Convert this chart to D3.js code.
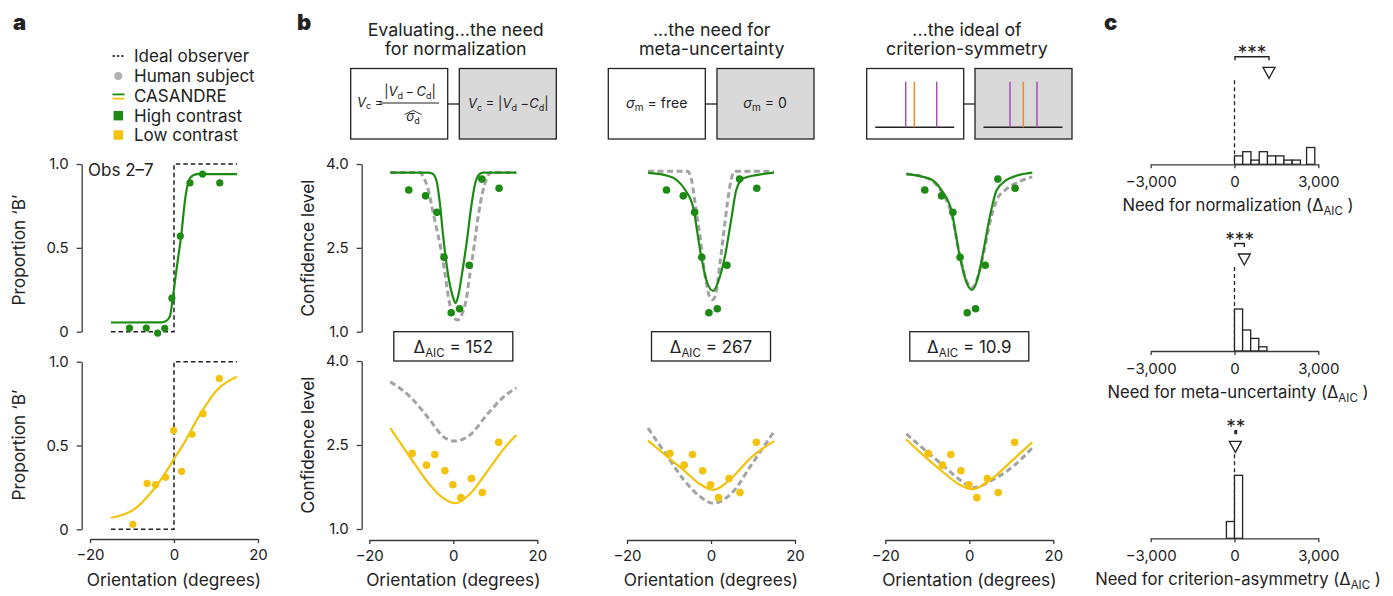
<!DOCTYPE html>
<html><head><meta charset="utf-8">
<script src="https://cdn.jsdelivr.net/npm/d3@7"></script>
<style>
body{margin:0;background:#fff}
svg{font-family:Inter,"Noto Sans",sans-serif;}
</style>
</head><body>
<svg id="chart" width="1393" height="596"></svg>
<script>
// ---------------- DATA ----------------
const oriHigh = [-10.6,-6.6,-3.9,-2.2,-0.5,1.5,3.8,6.8,10.9];
const oriLow  = [-9.8,-6.4,-4.4,-2.0,-0.1,1.8,4.3,6.9,10.8];
const propHigh = [0.022,0.022,-0.008,0.02,0.2,0.57,0.887,0.94,0.887];
const propLow  = [0.03,0.274,0.266,0.31,0.59,0.346,0.567,0.69,0.90];
const confHigh = [3.535,3.43,3.135,2.33,1.34,1.41,2.19,3.73,3.565];
const confLow  = [2.35,2.14,2.33,2.04,1.79,1.56,1.90,1.65,2.55];

const idealObserver = [[-15,0],[0,0],[0,1],[15,1]];
const psychFitHigh = [[-15,0.055],[-3,0.056],[-2,0.062],[-1,0.09],[-0.3,0.2],[0.7,0.39],[1.7,0.57],[2.7,0.8],[3.9,0.92],[5.5,0.94],[15,0.94]];
const psychFitLow  = [[-15,0.069],[-9.6,0.117],[-5.6,0.215],[-1.7,0.35],[0,0.42],[2.3,0.51],[6.3,0.69],[10.2,0.83],[15,0.91]];

// panel b model curves (full model = coloured, reduced model = grey dashed)
const normFullHigh = [[-15,3.845],[-6,3.845],[-5,3.83],[-4,3.7],[-3.2,3.3],[-2.4,2.7],[-1.2,2.0],[0,1.6],[0.55,1.51],[1.2,1.65],[2.2,2.1],[3.2,2.6],[4.2,3.2],[5.2,3.65],[6,3.8],[7,3.845],[15,3.845]];
const normRedHigh  = [[-15,3.85],[-8,3.85],[-7,3.75],[-6,3.55],[-5,3.2],[-4,2.85],[-3,2.5],[-2,2.05],[-1,1.55],[0,1.27],[1,1.21],[2,1.3],[3,1.55],[4,2.05],[5,2.55],[6,3.1],[7,3.5],[8,3.75],[9,3.85],[15,3.85]];
const normFullLow  = [[-15,2.8],[-10,2.25],[-5.6,1.79],[-2.4,1.55],[0.6,1.46],[4,1.63],[8,2.02],[12,2.43],[15,2.68]];
const normRedLow   = [[-15,3.63],[-10,3.34],[-5.6,2.95],[-2.4,2.65],[0.2,2.57],[4,2.68],[8,3.04],[12,3.36],[15,3.52]];

const metaFullHigh = [[-15,3.84],[-10.9,3.8],[-8.1,3.71],[-6.1,3.53],[-4.2,3.21],[-2.6,2.46],[-1.1,1.92],[0.5,1.73],[2.1,1.98],[3.3,2.34],[4.8,3.0],[6.0,3.53],[7.6,3.74],[10.7,3.8],[15,3.845]];
const metaRedHigh  = [[-15,3.87],[-5.6,3.87],[-4.6,3.7],[-3.6,3.2],[-2.6,2.7],[-1.4,2.0],[-0.3,1.62],[0.4,1.57],[1.2,1.7],[2.1,2.2],[3.0,2.75],[3.9,3.3],[4.8,3.72],[5.6,3.87],[15,3.87]];
const metaFullLow  = [[-15,2.58],[-10.4,2.29],[-6.5,2.05],[-2.6,1.8],[0.5,1.7],[5.3,1.94],[9.3,2.26],[15,2.57]];
const metaRedLow   = [[-15,2.8],[-10.4,2.3],[-6.5,1.88],[-2.6,1.58],[0.5,1.46],[5.3,1.67],[9.3,2.11],[15,2.74]];

const critFullHigh = [[-15,3.82],[-11,3.77],[-8.5,3.7],[-6.6,3.53],[-4.2,3.15],[-2.4,2.4],[-0.6,1.87],[0.7,1.75],[2.1,1.98],[3.4,2.46],[4.9,3.06],[6.5,3.53],[8.8,3.71],[11.2,3.79],[15,3.845]];
const critRedHigh  = [[-15,3.82],[-11,3.77],[-8.5,3.68],[-6.6,3.5],[-4.2,3.1],[-2.4,2.42],[-0.6,1.9],[0.8,1.79],[2.1,2.0],[3.4,2.4],[4.9,2.95],[6.5,3.35],[8.8,3.55],[11.2,3.66],[15,3.77]];
const critFullLow  = [[-15,2.6],[-10.1,2.26],[-6,2.0],[-2.3,1.79],[0.8,1.71],[5.6,1.91],[10.3,2.23],[15,2.55]];
const critRedLow   = [[-15,2.7],[-10.1,2.38],[-6,2.12],[-2.3,1.88],[1.1,1.74],[5.6,1.88],[10.3,2.11],[15,2.45]];

const deltaAIC = ["152","267","10.9"];
const headers = [["Evaluating...the need","for normalization"],["...the need for","meta-uncertainty"],["...the ideal of","criterion-symmetry"]];

// panel c histograms
const histLabels = ["Need for normalization (","Need for meta-uncertainty (","Need for criterion-asymmetry ("];
const normBinStarts = [0,295,590,885,1180,1475,1770,2065,2580];
const normCounts    = [2,3,1,3,2,2,1,1,4];
const metaBinStarts = [0,290,580,870];
const metaCounts    = [10,5,3,1];
const critBinStarts = [-290,0];
const critCounts    = [4,15];
const histMeans = [1236,350,30];
const histStars = ["***","***","**"];
const xTicksC = [-3000,0,3000];
const xTicksOri = [-20,0,20];

// ---------------- STYLE ----------------
const GREEN = "#1d8a13", YELLOW = "#f3c20c", GREY = "#a3a3a3", INK = "#222", AX = "#3a3a3a";
const PURPLE = "#a24fae", ORANGE = "#f08a24";
const TICK = 15, LAB = 17.3, LEG = 17, HEAD = 17.8, CLAB = 16.6;

const svg = d3.select("#chart");

function styleAxis(g){
  g.selectAll("path.domain").attr("stroke",AX).attr("stroke-width",1.3);
  g.selectAll(".tick line").attr("stroke",AX).attr("stroke-width",1.3);
  g.selectAll(".tick text").attr("fill",INK).attr("font-size",TICK).attr("font-family","Inter,'Noto Sans',sans-serif");
}
function yAxis(x, scale, ticks, fmt){
  const g = svg.append("g").attr("transform",`translate(${x},0)`)
    .call(d3.axisLeft(scale).tickValues(ticks).tickFormat(fmt).tickSize(5).tickSizeOuter(0).tickPadding(8));
  styleAxis(g);
}
function xAxis(y, scale, ticks, fmt, pad){
  const g = svg.append("g").attr("transform",`translate(0,${y})`)
    .call(d3.axisBottom(scale).tickValues(ticks).tickFormat(fmt).tickSize(4).tickSizeOuter(0).tickPadding(pad));
  styleAxis(g);
}
function yTitle(x, yc, txt){
  svg.append("text").attr("transform",`translate(${x},${yc}) rotate(-90)`)
    .attr("text-anchor","middle").attr("font-size",LAB).attr("fill",INK).text(txt);
}
function label(x,y,txt,opts={}){
  return svg.append("text").attr("x",x).attr("y",y).attr("fill",INK)
    .attr("font-size",opts.size||LAB).attr("text-anchor",opts.anchor||"start")
    .attr("font-weight",opts.weight||"normal").text(txt);
}
function curve(xs, ys, pts, color, dashed){
  const line = d3.line().x(d=>xs(d[0])).y(d=>ys(d[1])).curve(d3.curveMonotoneX);
  svg.append("path").attr("d",line(pts)).attr("fill","none").attr("stroke",color)
    .attr("stroke-width",dashed?3:2.2).attr("stroke-dasharray",dashed?"6,3.5":null);
}
function dots(xs, ys, xv, yv, color, r){
  svg.append("g").selectAll("circle").data(xv).join("circle")
    .attr("cx",(d)=>xs(d)).attr("cy",(d,i)=>ys(yv[i])).attr("r",r).attr("fill",color);
}

// panel letters
label(13,30,"a",{size:22,weight:900});
label(297,30,"b",{size:22,weight:900});
label(1104,30,"c",{size:22,weight:900});

// ---------------- PANEL A ----------------
const xA = d3.scaleLinear().domain([-20,20]).range([90,258]);
const yAtop = d3.scaleLinear().domain([0,1]).range([331.7,164]);
const yAbot = d3.scaleLinear().domain([0,1]).range([529.3,361.7]);
const propFmt = d=> d===0?"0":d3.format(".1f")(d);

// legend
const legY = [56,76,96,115.7,135];
const legTxt = ["Ideal observer","Human subject","CASANDRE","High contrast","Low contrast"];
legTxt.forEach((t,i)=> label(134, legY[i]+6, t, {size:LEG}));
svg.append("line").attr("x1",112.5).attr("x2",124).attr("y1",legY[0]).attr("y2",legY[0])
  .attr("stroke","#111").attr("stroke-width",1.4).attr("stroke-dasharray","2.5,1.8");
svg.append("circle").attr("cx",118.3).attr("cy",legY[1]).attr("r",4).attr("fill","#b3b3b3");
svg.append("line").attr("x1",112.5).attr("x2",124.5).attr("y1",legY[2]-1.6).attr("y2",legY[2]-1.6).attr("stroke",GREEN).attr("stroke-width",1.8);
svg.append("line").attr("x1",112.5).attr("x2",124.5).attr("y1",legY[2]+2.6).attr("y2",legY[2]+2.6).attr("stroke",YELLOW).attr("stroke-width",1.8);
svg.append("rect").attr("x",113.6).attr("y",legY[3]-4.7).attr("width",9.4).attr("height",9.4).attr("fill",GREEN);
svg.append("rect").attr("x",113.6).attr("y",legY[4]-4.7).attr("width",9.4).attr("height",9.4).attr("fill",YELLOW);

[[yAtop,psychFitHigh,oriHigh,propHigh,GREEN],[yAbot,psychFitLow,oriLow,propLow,YELLOW]].forEach(([ys,fit,ox,py,col])=>{
  yAxis(81.7, ys, [0,0.5,1], propFmt);
  const line = d3.line().x(d=>xA(d[0])).y(d=>ys(d[1]));
  svg.append("path").attr("d",line(idealObserver)).attr("fill","none").attr("stroke","#222")
    .attr("stroke-width",1.5).attr("stroke-dasharray","4.5,3");
  curve(xA, ys, fit, col, false);
  dots(xA, ys, ox, py, col, 3.6);
});
label(88,175.5,"Obs 2–7",{size:LEG});
yTitle(25,250,"Proportion ‘B’");
yTitle(25,445,"Proportion ‘B’");
xAxis(539, xA, xTicksOri, d3.format(""), 6.5);
label(174,586,"Orientation (degrees)",{anchor:"middle"});

// ---------------- PANEL B ----------------
const bPlots = [
  {x0:369.3, fh:normFullHigh, rh:normRedHigh, fl:normFullLow, rl:normRedLow},
  {x0:627.0, fh:metaFullHigh, rh:metaRedHigh, fl:metaFullLow, rl:metaRedLow},
  {x0:885.3, fh:critFullHigh, rh:critRedHigh, fl:critFullLow, rl:critRedLow}
];
const yBtop = d3.scaleLinear().domain([1,4]).range([331.7,164]);
const yBbot = d3.scaleLinear().domain([1,4]).range([529,361]);
yAxis(361.7, yBtop, [1,2.5,4], d3.format(".1f"));
yAxis(361.7, yBbot, [1,2.5,4], d3.format(".1f"));
yTitle(314,248,"Confidence level");
yTitle(314,445,"Confidence level");

const boxLefts = [[350.7,459.3],[608.3,717],[866.7,975]];
const headCenters = [455.7,711.7,967];

bPlots.forEach((p,i)=>{
  const xs = d3.scaleLinear().domain([-20,20]).range([p.x0,p.x0+168]);
  curve(xs,yBtop,p.rh,GREY,true);
  curve(xs,yBtop,p.fh,GREEN,false);
  dots(xs,yBtop,oriHigh,confHigh,GREEN,3.8);
  curve(xs,yBbot,p.rl,GREY,true);
  curve(xs,yBbot,p.fl,YELLOW,false);
  dots(xs,yBbot,oriLow,confLow,YELLOW,3.8);
  xAxis(540, xs, xTicksOri, d3.format(""), 6);
  label(xs(0),586,"Orientation (degrees)",{anchor:"middle"});
  // delta AIC box
  const cx = xs(0);
  svg.append("rect").attr("x",cx-59.5).attr("y",331.7).attr("width",119).attr("height",29.3)
    .attr("fill","#fff").attr("stroke","#222").attr("stroke-width",1.3);
  const t = svg.append("text").attr("x",cx).attr("y",353).attr("text-anchor","middle")
    .attr("font-size",17).attr("fill",INK);
  t.append("tspan").text("Δ");
  t.append("tspan").attr("font-size",11.5).attr("dy",4).text("AIC");
  t.append("tspan").attr("dy",-4).text(" = "+deltaAIC[i]);
  // header
  label(headCenters[i],35.7,headers[i][0],{anchor:"middle",size:HEAD});
  label(headCenters[i],55.3,headers[i][1],{anchor:"middle",size:HEAD});
  // schematic boxes
  const [l1,l2] = boxLefts[i];
  svg.append("line").attr("x1",l1+97).attr("x2",l2).attr("y1",104).attr("y2",104).attr("stroke","#222").attr("stroke-width",1.3);
  svg.append("rect").attr("x",l1).attr("y",68.5).attr("width",97).attr("height",70.5).attr("fill","#fff").attr("stroke","#222").attr("stroke-width",1.3);
  svg.append("rect").attr("x",l2).attr("y",68.5).attr("width",97).attr("height",70.5).attr("fill","#d9d9d9").attr("stroke","#222").attr("stroke-width",1.3);
});

// box contents: normalization formulas
function ftext(x,y,anchor,size){
  return svg.append("text").attr("x",x).attr("y",y).attr("text-anchor",anchor).attr("font-size",size).attr("fill",INK);
}
let f = ftext(357,106.5,"start",13);
f.append("tspan").attr("font-style","italic").text("V");
f.append("tspan").attr("font-size",9).attr("dy",2.5).text("c");
f.append("tspan").attr("dy",-2.5).text(" =");
f = ftext(410,96,"middle",13);
f.append("tspan").text("|");
f.append("tspan").attr("font-style","italic").text("V");
f.append("tspan").attr("font-size",9).attr("dy",2.5).text("d");
f.append("tspan").attr("dy",-2.5).text("\u2009−\u2009");
f.append("tspan").attr("font-style","italic").text("C");
f.append("tspan").attr("font-size",9).attr("dy",2.5).text("d");
f.append("tspan").attr("dy",-2.5).text("|");
svg.append("line").attr("x1",379.5).attr("x2",439).attr("y1",103).attr("y2",103).attr("stroke","#222").attr("stroke-width",1);
f = ftext(413,121,"middle",13);
f.append("tspan").attr("font-style","italic").text("σ");
f.append("tspan").attr("font-size",9).attr("dy",2.5).text("d");
svg.append("path").attr("d","M404.5,114.5 L413,110.5 L421.5,114.5").attr("fill","none").attr("stroke","#222").attr("stroke-width",0.9);
f = ftext(508.3,108,"middle",13);
f.append("tspan").attr("font-style","italic").text("V");
f.append("tspan").attr("font-size",9).attr("dy",2.5).text("c");
f.append("tspan").attr("dy",-2.5).text(" = |");
f.append("tspan").attr("font-style","italic").text("V");
f.append("tspan").attr("font-size",9).attr("dy",2.5).text("d");
f.append("tspan").attr("dy",-2.5).text(" −");
f.append("tspan").attr("font-style","italic").text("C");
f.append("tspan").attr("font-size",9).attr("dy",2.5).text("d");
f.append("tspan").attr("dy",-2.5).text("|");
// meta-uncertainty
[[656.7,"free"],[765,"0"]].forEach(([x,v])=>{
  const g = ftext(x,108.3,"middle",14);
  g.append("tspan").attr("font-style","italic").text("σ");
  g.append("tspan").attr("font-size",10).attr("dy",2.5).text("m");
  g.append("tspan").attr("dy",-2.5).text(" = "+v);
});
// criterion schematic
[[866.7,[39,70],47.6],[975,[35,62],48.3]].forEach(([bx,pur,orx])=>{
  svg.append("line").attr("x1",bx+8.5).attr("x2",bx+87.5).attr("y1",127.3).attr("y2",127.3).attr("stroke","#222").attr("stroke-width",1.4);
  pur.forEach(px=> svg.append("line").attr("x1",bx+px).attr("x2",bx+px).attr("y1",81.7).attr("y2",127.3).attr("stroke",PURPLE).attr("stroke-width",1.5));
  svg.append("line").attr("x1",bx+orx).attr("x2",bx+orx).attr("y1",81.7).attr("y2",127.3).attr("stroke",ORANGE).attr("stroke-width",1.5);
});

// ---------------- PANEL C ----------------
const xC = d3.scaleLinear().domain([-3000,3000]).range([1150.7,1318.3]);
const countPx = 4.2;
const hists = [
  {axisY:164.3, starts:normBinStarts, counts:normCounts, w:295},
  {axisY:351.0, starts:metaBinStarts, counts:metaCounts, w:290},
  {axisY:538.3, starts:critBinStarts, counts:critCounts, w:290}
];
hists.forEach((h,i)=>{
  const yC = d3.scaleLinear().domain([0,20]).range([h.axisY, h.axisY-20*countPx]);
  // dashed zero line
  svg.append("line").attr("x1",xC(0)).attr("x2",xC(0)).attr("y1",h.axisY-84).attr("y2",h.axisY)
    .attr("stroke","#222").attr("stroke-width",1.3).attr("stroke-dasharray","4,3");
  svg.append("g").selectAll("rect").data(h.starts).join("rect")
    .attr("x",d=>xC(d)).attr("width",d=>xC(d+h.w)-xC(d))
    .attr("y",(d,j)=>yC(h.counts[j])).attr("height",(d,j)=>yC(0)-yC(h.counts[j]))
    .attr("fill","#fff").attr("stroke","#222").attr("stroke-width",1.3);
  xAxis(h.axisY, xC, xTicksC, d3.format(","), 8);
  // mean triangle
  const m = xC(histMeans[i]);
  const ty = h.axisY-97;
  svg.append("path").attr("d",`M${m-6},${ty} L${m+6},${ty} L${m},${ty+11} Z`)
    .attr("fill","#fff").attr("stroke","#222").attr("stroke-width",1.3);
  // bracket
  const by = h.axisY-107.5;
  const x1 = xC(0)+0.5, x2 = Math.max(m, x1+1.5);
  svg.append("path").attr("d",`M${x1},${by+3.5} L${x1},${by} L${x2},${by} L${x2},${by+3.5}`)
    .attr("fill","none").attr("stroke","#222").attr("stroke-width",1.4);
  label((x1+x2)/2, h.axisY-105.5, histStars[i], {anchor:"middle", size:19});
  // axis title
  const t = svg.append("text").attr("x",1238).attr("y",h.axisY+47).attr("text-anchor","middle")
    .attr("font-size",CLAB).attr("fill",INK);
  t.append("tspan").text(histLabels[i]+"Δ");
  t.append("tspan").attr("font-size",11.5).attr("dy",4).text("AIC");
  t.append("tspan").attr("dy",-4).text(" )");
});
</script>
</body></html>
